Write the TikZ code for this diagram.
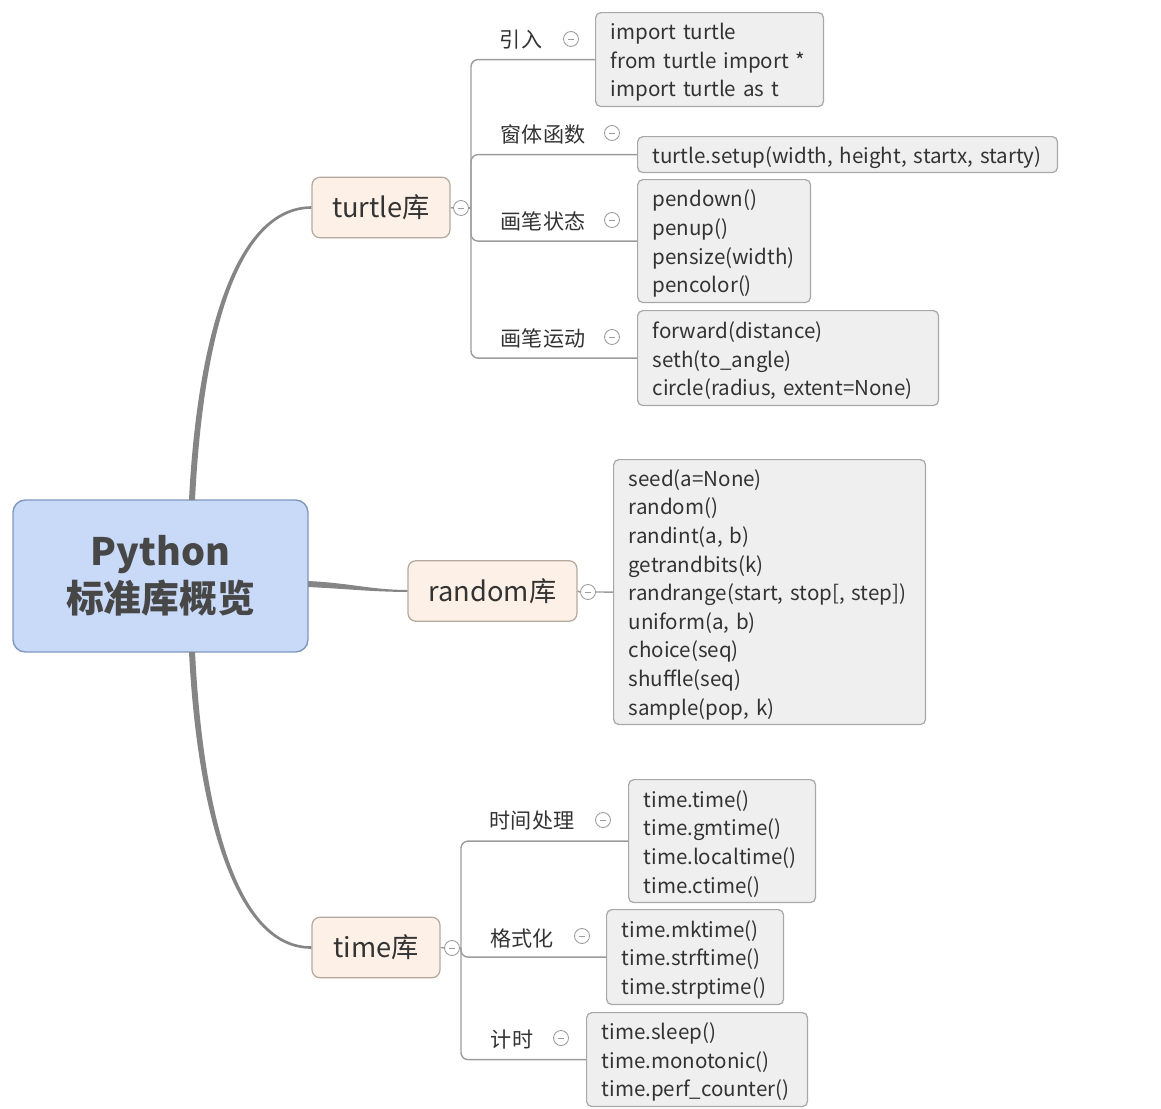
\documentclass[tikz,border=0pt]{standalone}
\usepackage{fontspec}
\setmainfont{Noto Sans CJK SC}
\usetikzlibrary{calc}
\definecolor{txt}{HTML}{333333}
\definecolor{ctxt}{HTML}{474747}
\definecolor{cfill}{HTML}{C9DAF8}
\definecolor{cdraw}{HTML}{7F96BE}
\definecolor{tfill}{HTML}{FDF0E6}
\definecolor{tdraw}{HTML}{B5A89C}
\definecolor{lfill}{HTML}{EFEFEF}
\definecolor{ldraw}{HTML}{A8A8A8}
\definecolor{curve}{HTML}{858585}
\definecolor{brc}{HTML}{9C9C9C}
\newcommand\firstln{\rule{0pt}{12.5pt}}
\begin{document}
\begin{tikzpicture}[x=0.02cm,y=-0.02cm,
  central/.style={draw=cdraw,fill=cfill,rounded corners=7pt,line width=0.8pt,
    minimum width=5.9cm,minimum height=3.04cm,align=center,text=ctxt,
    font=\fontsize{21.5}{27}\selectfont\bfseries},
  topic/.style={draw=tdraw,fill=tfill,rounded corners=4.5pt,line width=0.7pt,
    minimum height=1.21cm,text=txt,font=\fontsize{15.5}{18}\selectfont},
  leaf/.style={draw=ldraw,fill=lfill,rounded corners=3pt,line width=0.7pt,
    anchor=north west,inner xsep=0.3cm,inner ysep=0pt,align=left,text=txt,
    font=\fontsize{11.7}{16.3}\selectfont},
  lab/.style={text=txt,inner sep=0pt,font=\fontsize{12}{14}\selectfont},
  fold/.style={circle,draw=brc,fill=white,line width=0.5pt,minimum size=0.3cm,inner sep=0pt,
    path picture={\draw[brc,line width=0.5pt] ([xshift=2.4pt]path picture bounding box.west) -- ([xshift=-2.4pt]path picture bounding box.east);}},
  main/.style={fill=curve,draw=none},
  branch/.style={draw=brc,line width=0.8pt,rounded corners=4pt}]
\useasboundingbox (0,0) rectangle (1161,1109);

% central
\node[central] (c) at (160.5,576) {Python\\标准库概览};
\coordinate (cu) at (192,500);
\coordinate (cd) at (192,652);
\coordinate (cr) at (308,584);

% topics
\node[topic,minimum width=2.76cm] (turtle) at (381,207.5) {turtle库};
\node[topic,minimum width=3.38cm] (random) at (492.5,591) {random库};
\node[topic,minimum width=2.56cm] (time) at (376,947.5) {time库};

% tapered main connectors
\path[main] ($(cu)+(-3,0)$) .. controls (197,340) and (234,206.5) .. ($(turtle.west)+(0,-1.3)$)
  -- ($(turtle.west)+(0,1.3)$) .. controls (236,209.5) and (203,340) .. ($(cu)+(3,0)$) -- cycle;
\path[main] ($(cr)+(0,-3)$) .. controls (350,583) and (370,589.7) .. ($(random.west)+(0,-1)$)
  -- ($(random.west)+(0,1)$) .. controls (370,591.7) and (350,589) .. ($(cr)+(0,3)$) -- cycle;
\path[main] ($(cd)+(-3,0)$) .. controls (197,810) and (234,949.5) .. ($(time.west)+(0,1.3)$)
  -- ($(time.west)+(0,-1.3)$) .. controls (236,946.5) and (203,810) .. ($(cd)+(3,0)$) -- cycle;

% turtle branch
\node[fold] (tc) at (461,208) {};
\coordinate (th) at (471,208);
\node[leaf,text width=3.96cm,minimum height=1.88cm] (b1) at (595,12) {\firstln import turtle\\\mbox{from turtle import *}\\import turtle as t};
\node[leaf,text width=7.8cm,minimum height=0.72cm] (b2) at (637,136) {\mbox{\firstln turtle.setup(width, height, startx, starty)}};
\node[leaf,text width=2.86cm,minimum height=2.46cm] (b3) at (637,179) {\firstln pendown()\\penup()\\pensize(width)\\pencolor()};
\node[leaf,text width=5.42cm,minimum height=1.9cm] (b4) at (637,310) {\firstln forward(distance)\\seth(to\_angle)\\\mbox{circle(radius, extent=None)}};
\draw[branch] (turtle.east) -- (tc.west);
\draw[branch] (tc.east) -- (th);
\draw[branch] (th) |- (b1.west);
\draw[branch] (th) |- (b2.west);
\draw[branch] (th) |- (b3.west);
\draw[branch] (th) |- (b4.west);
\node[lab] (l1) at (521,40) {引入};
\node[lab] (l2) at (543,134) {窗体函数};
\node[lab] (l3) at (543,221) {画笔状态};
\node[lab] (l4) at (543,338) {画笔运动};
\node[fold] (l1c) at (571,39) {};
\node[fold] (l2c) at (612,133) {};
\node[fold] (l3c) at (612,220) {};
\node[fold] (l4c) at (612,337) {};

% random branch
\node[fold] (rc) at (588,592) {};
\node[leaf,text width=5.64cm,minimum height=5.3cm] (rb) at (613,459) {\firstln seed(a=None)\\random()\\randint(a, b)\\getrandbits(k)\\\mbox{randrange(start, stop[, step])}\\uniform(a, b)\\choice(seq)\\shuffle(seq)\\sample(pop, k)};
\draw[branch] (random.east) -- (rc.west);
\draw[branch] (rc.east) -- (rb.west);

% time branch
\node[fold] (mc) at (452,948) {};
\coordinate (mh) at (461,948);
\node[leaf,text width=3.14cm,minimum height=2.46cm] (t1) at (628,779) {\firstln time.time()\\time.gmtime()\\time.localtime()\\time.ctime()};
\node[leaf,text width=2.94cm,minimum height=1.9cm] (t2) at (606,909) {\firstln time.mktime()\\time.strftime()\\time.strptime()};
\node[leaf,text width=3.82cm,minimum height=1.88cm] (t3) at (586,1012) {\firstln time.sleep()\\time.monotonic()\\\mbox{time.perf\_counter()}};
\draw[branch] (time.east) -- (mc.west);
\draw[branch] (mc.east) -- (mh);
\draw[branch] (mh) |- (t1.west);
\draw[branch] (mh) |- (t2.west);
\draw[branch] (mh) |- (t3.west);
\node[lab] (m1) at (532,821) {时间处理};
\node[lab] (m2) at (522,938) {格式化};
\node[lab] (m3) at (512,1040) {计时};
\node[fold] (m1c) at (603,820) {};
\node[fold] (m2c) at (582,936) {};
\node[fold] (m3c) at (561,1038) {};
\end{tikzpicture}
\end{document}
